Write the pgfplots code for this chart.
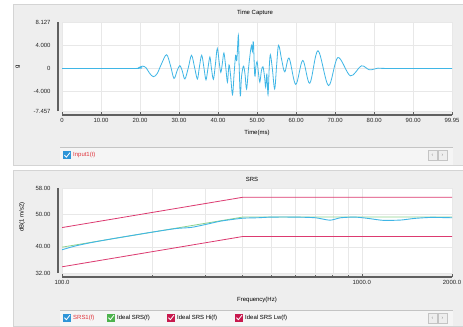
\documentclass[border=0pt]{standalone}
\usepackage{fontspec}
\setmainfont{Liberation Sans}
\usepackage{pgfplots}
\pgfplotsset{compat=1.18}
\definecolor{panel}{HTML}{EEEEEE}
\definecolor{panelline}{HTML}{D4D4D4}
\definecolor{strip}{HTML}{F5F5F5}
\definecolor{stripline}{HTML}{C4C4C4}
\definecolor{axisgray}{HTML}{606060}
\definecolor{sig}{HTML}{3FB6E6}
\definecolor{hi}{HTML}{DC3A70}
\definecolor{ideal}{HTML}{8ED28E}
\definecolor{chkblue}{HTML}{2E95D8}
\definecolor{chkgreen}{HTML}{4DB34D}
\definecolor{chkred}{HTML}{C8194E}
\definecolor{legred}{HTML}{E0343C}
\newcommand{\chk}[3]{%
  \fill[#3] (#1bp,-#2bp) rectangle (#1bp+8bp,-#2bp-8bp);
  \draw[white,line width=0.8bp] (#1bp+1.5bp,-#2bp-4.2bp) -- (#1bp+3.4bp,-#2bp-6.2bp) -- (#1bp+7bp,-#2bp-1.6bp);}
\newcommand{\scrollbtns}[1]{%
  \draw[stripline,fill=panel] (428bp,-#1bp) rectangle (437bp,-#1bp-10bp);
  \draw[stripline,fill=panel] (438bp,-#1bp) rectangle (447bp,-#1bp-10bp);
  \node[text=gray,font=\fontsize{5}{5}\selectfont,inner sep=0pt] at (432.5bp,-#1bp-5bp) {‹};
  \node[text=gray,font=\fontsize{5}{5}\selectfont,inner sep=0pt] at (442.5bp,-#1bp-5bp) {›};}
\pgfplotsset{
  panelaxis/.style={
    scale only axis, width=390bp,
    axis background/.style={fill=white},
    axis x line=bottom, axis y line=left,
    x axis line style={-, yshift=-4bp, draw=axisgray, line width=1.1bp},
    y axis line style={-, xshift=-4bp, draw=axisgray, line width=1.1bp},
    xtick style={yshift=-4bp, draw=axisgray, line width=0.5bp},
    ytick style={draw=none},
    tick align=inside, major tick length=3bp, minor tick length=2bp,
    ticklabel style={font=\fontsize{6}{7}\selectfont, text=black!85},
    xticklabel style={yshift=-4bp},
    yticklabel style={xshift=-8bp},
    major grid style={draw=black!9, line width=0.4bp},
    minor grid style={draw=black!9, line width=0.4bp},
    clip=true,
  }
}
\begin{document}
\begin{tikzpicture}[font=\fontsize{6}{7}\selectfont]
\useasboundingbox (0,0) rectangle (463bp,-327bp);
\fill[white] (0,0) rectangle (463bp,-327bp);
% panels
\draw[panelline,fill=panel] (13bp,-4bp) rectangle (463bp,-165bp);
\draw[panelline,fill=panel] (13bp,-170bp) rectangle (463bp,-326bp);
% legend strips
\fill[strip] (60bp,-147bp) rectangle (453bp,-165bp);
\draw[stripline] (60bp,-147bp) -- (453bp,-147bp);
\fill[strip] (60bp,-310bp) rectangle (453bp,-326bp);
\draw[stripline] (60bp,-310bp) -- (453bp,-310bp);
% titles and labels
\node at (255bp,-13bp) {Time Capture};
\node at (252bp,-179bp) {SRS};
\node at (257bp,-133bp) {Time(ms)};
\node at (257bp,-300bp) {Frequency(Hz)};
\node[rotate=90] at (18bp,-67bp) {g};
\node[rotate=90] at (22bp,-217bp) {dB(1 m/s2)};

\begin{axis}[panelaxis, height=89bp, at={(62bp,-111bp)}, anchor=south west,
  xmin=0, xmax=99.95, ymin=-7.457, ymax=8.127,
  xtick={0,10,20,30,40,50,60,70,80,90,99.95},
  xticklabels={0,10.00,20.00,30.00,40.00,50.00,60.00,70.00,80.00,90.00,99.95},
  ytick={-7.457,-4,0,4,8.127},
  yticklabels={-7.457,-4.000,0,4.000,8.127},
  grid=major]
\addplot[sig, line width=0.8bp, smooth, tension=0.55] coordinates {
(0,0) (19,0) (19.8,0.2) (20.6,0.4) (21.5,0.15) (22.4,-0.8) (23.4,-1.45) (24.4,-0.9)
(25.5,0.8) (26.8,2.4) (27.8,0.5) (28.7,-1.75) (29.5,-0.4) (30.2,0.5) (30.8,-0.4)
(31.5,-1.85) (32.4,0.2) (33.2,2.3) (34.0,0.1) (34.7,-1.85) (35.2,0.2) (35.8,2.3)
(36.4,0) (36.9,-2.0) (37.4,0) (37.9,2.0) (38.3,0) (38.8,-1.9) (39.3,0.6) (39.8,3.5)
(40.3,1.0) (40.7,-0.7) (41.1,0.9) (41.5,2.7) (42.0,0) (42.4,-2.4) (42.8,0.6)
(43.2,-1.2) (43.7,-4.6) (44.1,-1.0) (44.5,2.3) (44.8,1.4) (45.2,5.8) (45.4,0.5)
(45.7,-4.8) (46.0,-1.5) (46.5,0.4) (46.9,-1.0) (47.3,-3.6) (47.8,0) (48.3,3.0)
(48.6,4.0) (48.8,3.0) (49.05,4.6) (49.4,-1.3) (49.7,0.4) (50.0,1.2) (50.3,-0.5)
(50.7,-2.4) (51.1,-0.4) (51.5,0.3) (51.9,-1.4) (52.2,-3.3) (52.5,-1.0) (52.8,-4.6)
(53.1,0) (53.4,2.4) (53.9,0) (54.5,-3.6) (55.0,0.5) (55.5,4.05) (56.3,1.5)
(57.1,-0.6) (58.2,1.8) (59.9,-2.8) (61.7,1.4) (63.5,-2.6) (65.6,3.1) (68.3,-3.0)
(70.7,1.9) (73.9,-1.3) (76.7,0.45) (78.8,-0.25) (81,0.05) (83,0) (99.95,0)
};
\end{axis}

\begin{axis}[panelaxis, height=85bp, at={(62bp,-273bp)}, anchor=south west,
  xmode=log, xmin=100, xmax=2000, ymin=32, ymax=58,
  xtick={100,1000,2000}, xticklabels={100.0,1000.0,2000.0},
  minor xtick={200,300,400,500,600,700,800,900},
  ytick={32,40,50,58}, yticklabels={32.00,40.00,50.00,58.00},
  grid=both]
\addplot[hi, line width=0.8bp] coordinates {(100,45.9) (400,55.15) (2000,55.15)};
\addplot[hi, line width=0.8bp] coordinates {(100,33.9) (400,43.15) (2000,43.15)};
\addplot[ideal, line width=0.8bp] coordinates {(100,39.9) (400,49.1) (2000,49.1)};
\addplot[sig, line width=0.9bp, smooth, tension=0.4] coordinates {
(100,39.1) (110,40.2) (125,41.3) (150,42.6) (200,44.5) (240,45.6) (270,45.95)
(300,46.8) (340,47.9) (400,48.75) (450,48.9) (500,49.1) (600,49.1) (700,48.9)
(783,48.15) (850,48.9) (950,49.1) (1050,48.7) (1180,48.1) (1350,48.2) (1500,48.7)
(1700,49.0) (2000,48.9)
};
\end{axis}

% legends
\chk{63}{151}{chkblue}
\node[anchor=west,text=legred,inner sep=0pt] at (73bp,-155bp) {Input1(t)};
\scrollbtns{150}
\chk{63}{313.5}{chkblue}
\node[anchor=west,text=legred,inner sep=0pt] at (73bp,-317.5bp) {SRS1(f)};
\chk{107}{313.5}{chkgreen}
\node[anchor=west,inner sep=0pt] at (117bp,-317.5bp) {Ideal SRS(f)};
\chk{167}{313.5}{chkred}
\node[anchor=west,inner sep=0pt] at (177bp,-317.5bp) {Ideal SRS Hi(f)};
\chk{235}{313.5}{chkred}
\node[anchor=west,inner sep=0pt] at (245bp,-317.5bp) {Ideal SRS Lw(f)};
\scrollbtns{313}
\end{tikzpicture}
\end{document}
